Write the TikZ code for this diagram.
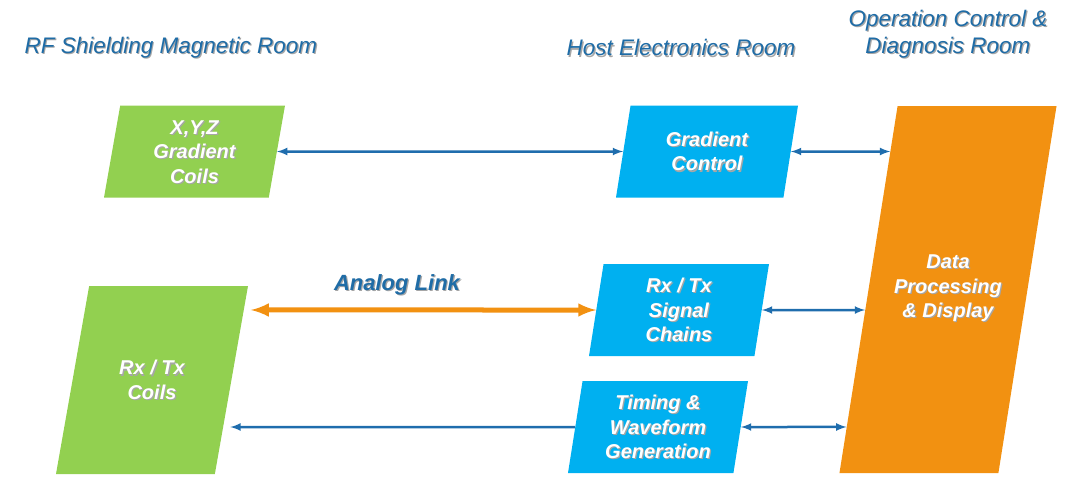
\documentclass[tikz,border=0pt]{standalone}
\usepackage{fontspec}
\setmainfont{Liberation Sans}
\usetikzlibrary{shapes.geometric, arrows, positioning}
\definecolor{roomblue}{HTML}{1F6CA6}
\definecolor{linkblue}{HTML}{1F6DAD}
\definecolor{coilgreen}{HTML}{92D050}
\definecolor{hostcyan}{HTML}{00B0F0}
\definecolor{procorange}{HTML}{F29111}
\newcommand{\shd}[1]{\leavevmode\rlap{\kern1.2pt\raisebox{-1.2pt}{\textcolor{black!35}{#1}}}#1}
\tikzset{
	blockbox/.style={shape=trapezium, trapezium left angle=81, trapezium right angle=99,
		trapezium stretches body=true, inner sep=0pt, text=white, align=center,
		font=\bfseries\itshape\fontsize{20}{24.5}\selectfont},
	room/.style={text=roomblue, align=center, font=\itshape\fontsize{22.5}{27}\selectfont},
	link/.style={draw=linkblue, line width=2.5pt},
	analoglink/.style={draw=procorange, line width=5pt}
}

\begin{document}
\begin{tikzpicture}[x=1pt, y=-1pt]
\useasboundingbox (0,0) rectangle (1080,479);
{% room titles
\node[room, anchor=base west] (rfroom) at (21,53) {\shd{RF Shielding Magnetic Room}};
\node[room, anchor=base] (hostroom) at (681,56) {\shd{Host Electronics Room}};
\node[room, anchor=base] (oproom) at (948,53) {\shd{Operation Control \&}\\\shd{Diagnosis Room}};
\node[room, anchor=base, font=\bfseries\itshape\fontsize{22}{27}\selectfont] (analoglbl) at (397,290) {\shd{Analog Link}};
}
{% blocks
\node[blockbox, fill=coilgreen, trapezium left angle=80, trapezium right angle=100, minimum width=181pt, text height=77.65pt, text depth=14.35pt] (xyz) at (194.5,151.5) {\shd{X,Y,Z}\\\shd{Gradient}\\\shd{Coils}};
\node[blockbox, fill=coilgreen, trapezium left angle=80, trapezium right angle=100, minimum width=192pt, text height=113.4pt, text depth=74.6pt] (coils) at (152,380) {\shd{Rx / Tx}\\\shd{Coils}};
\node[blockbox, fill=hostcyan, minimum width=182pt, text height=65.4pt, text depth=26.6pt] (gradctl) at (707,151.5) {\shd{Gradient}\\\shd{Control}};
\node[blockbox, fill=hostcyan, minimum width=180pt, text height=77.65pt, text depth=14.35pt] (sigchain) at (679,310) {\shd{Rx / Tx}\\\shd{Signal}\\\shd{Chains}};
\node[blockbox, fill=hostcyan, minimum width=180pt, text height=77.65pt, text depth=14.35pt] (timing) at (658,427) {\shd{Timing \&}\\\shd{Waveform}\\\shd{Generation}};
\node[blockbox, fill=procorange, inner xsep=-3.5pt, minimum width=216pt, text height=211.65pt, text depth=155.35pt] (dataproc) at (948,289.5) {\shd{Data}\\\shd{Processing}\\\shd{\& Display}};
}
{% links
\path[link, latex-latex] (xyz.east) -- (gradctl.west);
\path[link, latex-latex] (gradctl.east) -- (intersection of gradctl.east--gradctl.east -| dataproc.east and dataproc.top left corner--dataproc.bottom left corner);
\path[link, latex-latex] (sigchain.east) -- (intersection of sigchain.east--sigchain.east -| dataproc.east and dataproc.top left corner--dataproc.bottom left corner);
\path[link, latex-latex] (timing.east) -- (intersection of timing.east--timing.east -| dataproc.east and dataproc.top left corner--dataproc.bottom left corner);
\path[link, -latex, shorten >=7pt] (timing.west) -- (intersection of timing.west--timing.west -| coils.west and coils.top right corner--coils.bottom right corner);
\path[analoglink, latex-latex, shorten <=7pt] (intersection of sigchain.west--sigchain.west -| coils.west and coils.top right corner--coils.bottom right corner) -- (sigchain.west);
}
\end{tikzpicture}
\end{document}
